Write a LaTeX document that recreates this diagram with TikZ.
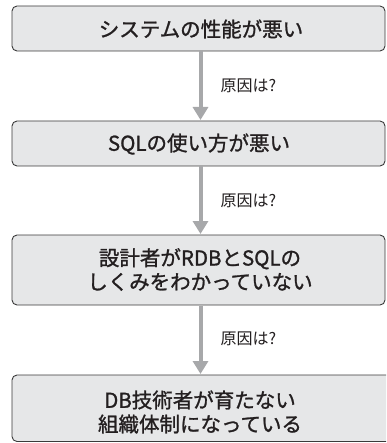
\documentclass[tikz,border=0pt]{standalone}
\usepackage{fontspec}
\setmainfont[FakeBold=1.2]{Noto Sans CJK JP}
\newfontfamily\labelfont{Noto Sans CJK JP}
\usetikzlibrary{arrows.meta}
\definecolor{boxfill}{HTML}{E6E7E8}
\definecolor{boxline}{HTML}{3A3A3A}
\definecolor{arrgray}{HTML}{A7A8AA}
\definecolor{txt}{HTML}{231F20}
\tikzset{
  stepbox/.style={draw=boxline, line width=0.9pt, fill=boxfill, rounded corners=5pt},
  boxtext/.style={font=\fontsize{20.5}{24}\selectfont, align=center, text=txt},
  flowarrow/.style={draw=arrgray, line width=4pt, -{Triangle[length=13pt,width=15pt]}},
  cause/.style={font=\labelfont\fontsize{16}{18}\selectfont, anchor=west, text=txt}
}
\begin{document}
\begin{tikzpicture}[x=1pt,y=1pt]
\useasboundingbox (0,0) rectangle (386,-443);
\begin{scope}
\clip (0,0) rectangle (386,-443);
\draw[stepbox] (12,-6) rectangle (385,-51);
\draw[stepbox] (12,-121) rectangle (385,-166);
\draw[stepbox] (12,-235) rectangle (385,-305);
\draw[stepbox] (12,-375) rectangle (392,-441.5);
\end{scope}
\node[boxtext] (b1) at (201,-29) {システムの性能が悪い};
\node[boxtext] (b2) at (199,-144) {SQLの使い方が悪い};
\node[boxtext] (b3) at (200,-269.5) {設計者がRDBとSQLの\\しくみをわかっていない};
\node[boxtext] (b4) at (200,-412) {DB技術者が育たない\\組織体制になっている};
\coordinate (a1s) at (200.5,-51.5);
\coordinate (a1e) at (200.5,-120);
\coordinate (a2s) at (200.5,-166.5);
\coordinate (a2e) at (200.5,-234);
\coordinate (a3s) at (200.5,-305.5);
\coordinate (a3e) at (200.5,-374);
\draw[flowarrow] (a1s) -- (a1e);
\draw[flowarrow] (a2s) -- (a2e);
\draw[flowarrow] (a3s) -- (a3e);
\node[cause] (c1) at (217,-86) {原因は?};
\node[cause] (c2) at (217,-201) {原因は?};
\node[cause] (c3) at (217,-339) {原因は?};
\end{tikzpicture}
\end{document}
